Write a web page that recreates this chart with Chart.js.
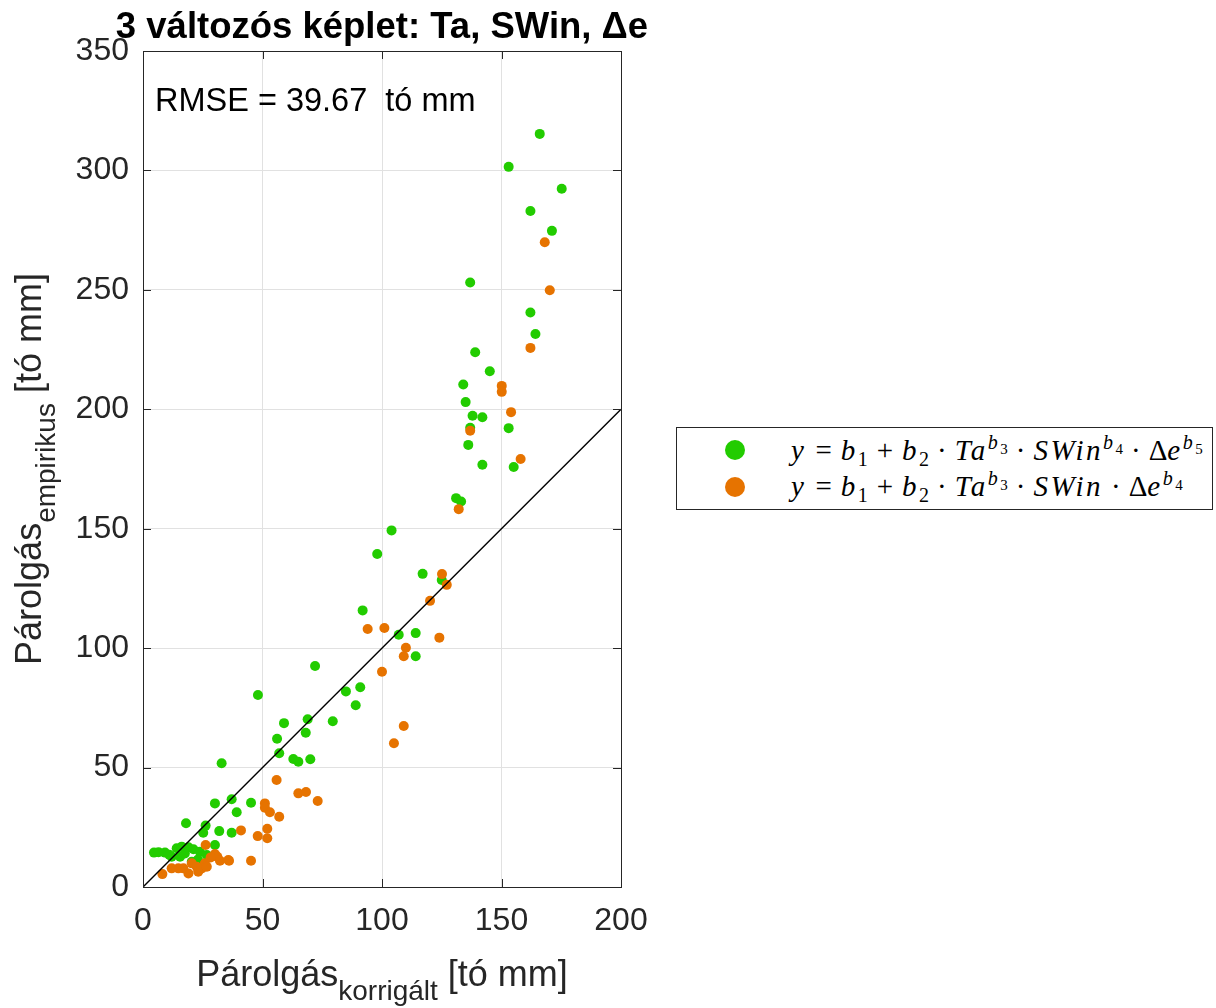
<!DOCTYPE html>
<html><head><meta charset="utf-8">
<script src="https://cdn.jsdelivr.net/npm/chart.js@4/dist/chart.umd.min.js"></script>
<style>
html,body{margin:0;padding:0;background:#fff;}
#wrap{position:relative;width:1216px;height:1008px;overflow:hidden;}
#c{position:absolute;left:0;top:0;}
#legend{position:absolute;left:676px;top:427px;width:535px;height:81px;border:1px solid #262626;background:#fff;font-family:"Liberation Serif","DejaVu Serif",serif;font-size:29px;color:#000;}
.mk{position:absolute;left:48px;width:20px;height:20px;border-radius:50%;}
.tx{position:absolute;left:114px;white-space:nowrap;line-height:30px;}
.tx i{font-style:italic;letter-spacing:2.5px;}
.op{margin:0 9px;}
.dt{margin:0 8px;}
.sp{position:relative;top:-11px;font-size:20px;}
.sp .s2{position:relative;top:5px;font-size:15px;}
.sb{position:relative;top:6px;font-size:20px;}
</style>
</head><body>
<div id="wrap">
<canvas id="c" width="1216" height="1008"></canvas>
<div id="legend">
  <span class="mk" style="top:12px;background:#22cc00"></span>
  <span class="tx" style="top:7px"><i>y</i><span class="op">=</span><i>b</i><span class="sb">1</span><span class="op">+</span><i>b</i><span class="sb">2</span><span class="dt">·</span><i>Ta</i><span class="sp"><i>b</i><span class="s2">3</span></span><span class="dt">·</span><i>SWin</i><span class="sp"><i>b</i><span class="s2">4</span></span><span class="dt">·</span>Δ<i>e</i><span class="sp"><i>b</i><span class="s2">5</span></span></span>
  <span class="mk" style="top:49px;background:#e67300"></span>
  <span class="tx" style="top:43px"><i>y</i><span class="op">=</span><i>b</i><span class="sb">1</span><span class="op">+</span><i>b</i><span class="sb">2</span><span class="dt">·</span><i>Ta</i><span class="sp"><i>b</i><span class="s2">3</span></span><span class="dt">·</span><i>SWin</i><span class="dt">·</span>Δ<i>e</i><span class="sp"><i>b</i><span class="s2">4</span></span></span>
</div>
</div>
<script>
// ---- data ----
const greenX = [166.0,153.0,175.2,162.1,171.1,136.9,162.1,164.2,139.0,145.1,134.0,135.0,137.9,142.0,136.9,153.0,136.1,142.0,155.1,131.0,133.1,
  104.0,98.0,117.0,125.0,91.9,107.0,114.1,114.1,72.0,48.1,84.9,90.9,89.0,79.4,68.9,59.0,68.1,56.1,57.0,62.9,65.0,70.0,32.9,
  30.1,37.1,45.2,39.2,18.0,26.2,25.2,31.9,37.1,4.6,9.2,14.1,16.2,19.0,21.1,23.8,30.1,12.0,15.5,20.4,26.7,6.5,11.0,17.5,23.0];
const greenY = [315.3,301.5,292.3,283.0,274.7,253.1,240.5,231.5,223.9,215.9,210.4,203.0,197.3,196.7,192.3,192.1,185.1,176.8,175.8,162.8,161.4,
  149.3,139.4,131.1,128.5,115.8,105.6,106.3,96.6,92.5,80.4,81.9,83.6,76.1,69.4,70.2,68.6,64.6,62.1,56.0,53.6,52.4,53.5,51.8,
  35.0,36.7,35.3,31.3,26.7,25.7,22.7,23.4,22.7,14.4,14.4,16.2,16.9,16.6,15.8,14.8,17.6,12.7,12.7,10.6,13.4,14.6,13.5,14.0,11.5];
const orangeX = [168.1,170.2,162.1,150.1,150.1,154.0,136.9,158.0,132.1,125.1,127.1,120.1,94.0,101.0,124.0,110.0,109.1,100.0,109.1,105.0,
  55.9,65.0,68.2,73.1,51.0,51.0,53.1,57.0,41.0,48.0,52.0,52.0,45.2,36.0,26.2,30.1,31.1,32.2,28.3,25.9,24.6,22.5,20.4,19.0,16.9,14.8,12.0,8.1,23.1,26.7,35.7];
const orangeY = [269.9,249.8,225.7,209.8,207.3,198.8,191.0,179.2,158.2,131.0,126.5,119.8,108.0,108.4,104.4,100.2,96.6,90.1,67.4,60.2,
  44.8,39.2,39.8,36.0,35.0,33.2,31.3,29.4,23.7,21.3,24.4,20.4,11.0,11.0,17.6,13.8,12.7,11.0,12.4,9.9,7.8,8.5,9.9,5.7,7.8,7.8,7.8,5.4,6.4,8.5,11.3];
const refLineX = [0,200];
const refLineY = [0,200];
const xTicks = [0,50,100,150,200];
const yTicks = [0,50,100,150,200,250,300,350];
const titleText = '3 változós képlet: Ta, SWin, \u0394e';
const rmseText = 'RMSE = 39.67  tó mm';

const toPts = (xs, ys) => xs.map((x, i) => ({x: x, y: ys[i]}));
const AX = '#262626';
const FONT = '"Liberation Sans", Arial, sans-serif';

const decor = {
  id: 'decor',
  afterDraw(chart) {
    const ctx = chart.ctx, a = chart.chartArea;
    const xs = chart.scales.x, ys = chart.scales.y;
    ctx.save();
    ctx.strokeStyle = AX; ctx.lineWidth = 1;
    ctx.strokeRect(Math.round(a.left) + 0.5, Math.round(a.top) + 0.5, Math.round(a.right - a.left), Math.round(a.bottom - a.top));
    const tl = 8;
    ctx.beginPath();
    xTicks.forEach(v => {
      const p = Math.round(xs.getPixelForValue(v)) + 0.5;
      ctx.moveTo(p, a.bottom); ctx.lineTo(p, a.bottom - tl);
      ctx.moveTo(p, a.top); ctx.lineTo(p, a.top + tl);
    });
    yTicks.forEach(v => {
      const p = Math.round(ys.getPixelForValue(v)) + 0.5;
      ctx.moveTo(a.left, p); ctx.lineTo(a.left + tl, p);
      ctx.moveTo(a.right, p); ctx.lineTo(a.right - tl, p);
    });
    ctx.stroke();
    // title
    ctx.fillStyle = '#000';
    ctx.font = 'bold 36.5px ' + FONT;
    ctx.textAlign = 'center'; ctx.textBaseline = 'alphabetic';
    ctx.fillText(titleText, (a.left + a.right) / 2, 38);
    // RMSE
    ctx.font = '32.5px ' + FONT;
    ctx.textAlign = 'left';
    ctx.fillText(rmseText, a.left + 12, 111);
    // x axis title
    ctx.fillStyle = AX;
    const mainF = '36px ' + FONT, subF = '28px ' + FONT;
    const parts = [['Párolgás', mainF, 0], ['korrigált', subF, 14], [' [tó mm]', mainF, 0]];
    let widths = parts.map(p => { ctx.font = p[1]; return ctx.measureText(p[0]).width; });
    let total = widths.reduce((s, w) => s + w, 0);
    let x0 = (a.left + a.right) / 2 - total / 2;
    parts.forEach((p, i) => { ctx.font = p[1]; ctx.fillText(p[0], x0, 986 + p[2]); x0 += widths[i]; });
    // y axis title
    ctx.save();
    ctx.translate(41, (a.top + a.bottom) / 2);
    ctx.rotate(-Math.PI / 2);
    const yparts = [['Párolgás', mainF, 0], ['empirikus', subF, 14], [' [tó mm]', mainF, 0]];
    widths = yparts.map(p => { ctx.font = p[1]; return ctx.measureText(p[0]).width; });
    total = widths.reduce((s, w) => s + w, 0);
    x0 = -total / 2;
    yparts.forEach((p, i) => { ctx.font = p[1]; ctx.fillText(p[0], x0, p[2]); x0 += widths[i]; });
    ctx.restore();
    ctx.restore();
  }
};

new Chart(document.getElementById('c'), {
  type: 'scatter',
  data: {
    datasets: [
      {label: 'ref', type: 'line', data: toPts(refLineX, refLineY), borderColor: '#000', borderWidth: 1.4,
       pointRadius: 0, fill: false, order: 0},
      {label: 'y = b1 + b2·Ta^b3·SWin·Δe^b4', data: toPts(orangeX, orangeY), backgroundColor: '#e67300',
       borderWidth: 0, pointRadius: 5, order: 1},
      {label: 'y = b1 + b2·Ta^b3·SWin^b4·Δe^b5', data: toPts(greenX, greenY), backgroundColor: '#22cc00',
       borderWidth: 0, pointRadius: 5, order: 2}
    ]
  },
  options: {
    responsive: false, animation: false, devicePixelRatio: 1,
    layout: {padding: {top: 51, right: 595, left: 0, bottom: 0}},
    plugins: {legend: {display: false}, title: {display: false}, tooltip: {enabled: false}},
    scales: {
      x: {
        type: 'linear', min: 0, max: 200,
        afterFit: s => { s.height = 121; },
        afterBuildTicks: s => { s.ticks = xTicks.map(v => ({value: v})); },
        grid: {color: '#e1e1e1', lineWidth: 1, drawTicks: false},
        border: {display: false},
        ticks: {padding: 15, color: AX, font: {family: FONT, size: 32}, maxRotation: 0}
      },
      y: {
        type: 'linear', min: 0, max: 350,
        afterFit: s => { s.width = 143; },
        afterBuildTicks: s => { s.ticks = yTicks.map(v => ({value: v})); },
        grid: {color: '#e1e1e1', lineWidth: 1, drawTicks: false},
        border: {display: false},
        ticks: {padding: 14, color: AX, font: {family: FONT, size: 32}}
      }
    }
  },
  plugins: [decor]
});
</script>
</body></html>
